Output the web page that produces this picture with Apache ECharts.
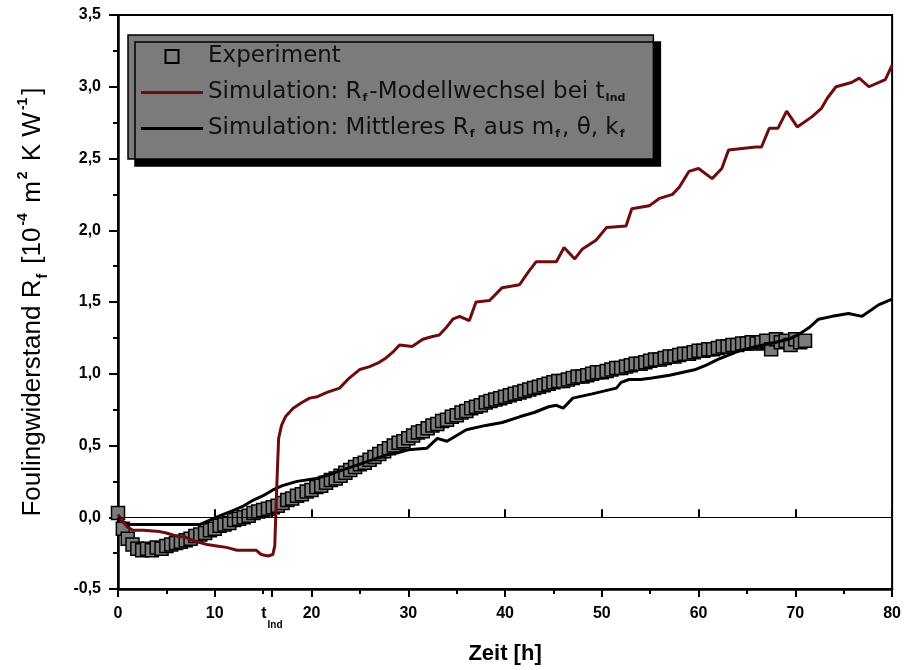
<!DOCTYPE html>
<html><head><meta charset="utf-8">
<script src="https://cdn.jsdelivr.net/npm/echarts@6/dist/echarts.min.js"></script>
<style>html,body{margin:0;padding:0;background:#fff}#c{width:904px;height:670px}</style>
</head><body><div id="c"></div>
<script>
// ---- Data ----
const expTime = [0,0.5,1,1.5,2,2.5,3,3.5,4,4.5,5,5.5,6,6.5,7,7.5,8,8.5,9,9.5,10,10.5,11,11.5,12,12.5,13,13.5,14,14.5,15,15.5,16,16.5,17,17.5,18,18.5,19,19.5,20,20.5,21,21.5,22,22.5,23,23.5,24,24.5,25,25.5,26,26.5,27,27.5,28,28.5,29,29.5,30,30.5,31,31.5,32,32.5,33,33.5,34,34.5,35,35.5,36,36.5,37,37.5,38,38.5,39,39.5,40,40.5,41,41.5,42,42.5,43,43.5,44,44.5,45,45.5,46,46.5,47,47.5,48,48.5,49,49.5,50,50.5,51,51.5,52,52.5,53,53.5,54,54.5,55,55.5,56,56.5,57,57.5,58,58.5,59,59.5,60,60.5,61,61.5,62,62.5,63,63.5,64,64.5,65,65.5,66,66.5,67,67.5,68,68.5,69,69.5,70,70.5,71];
const expValues = [0.03,-0.08,-0.15,-0.19,-0.22,-0.23,-0.22,-0.23,-0.21,-0.22,-0.20,-0.19,-0.18,-0.17,-0.16,-0.15,-0.13,-0.12,-0.11,-0.09,-0.08,-0.06,-0.05,-0.04,-0.02,-0.01,0.00,0.01,0.03,0.04,0.05,0.06,0.07,0.08,0.10,0.12,0.13,0.15,0.16,0.18,0.19,0.21,0.22,0.24,0.26,0.27,0.29,0.31,0.33,0.35,0.37,0.38,0.40,0.42,0.44,0.46,0.48,0.50,0.52,0.53,0.55,0.57,0.59,0.60,0.62,0.64,0.65,0.67,0.68,0.70,0.71,0.73,0.74,0.76,0.77,0.78,0.80,0.81,0.82,0.83,0.84,0.85,0.86,0.87,0.88,0.89,0.90,0.91,0.92,0.93,0.94,0.95,0.95,0.96,0.97,0.98,0.98,0.99,1.00,1.01,1.01,1.02,1.03,1.04,1.04,1.05,1.06,1.07,1.07,1.08,1.09,1.10,1.10,1.11,1.12,1.12,1.13,1.14,1.14,1.15,1.16,1.16,1.17,1.17,1.18,1.19,1.19,1.20,1.20,1.21,1.21,1.22,1.21,1.22,1.23,1.17,1.24,1.22,1.23,1.20,1.24,1.22,1.23];

const redTime = [0,0.5,1,1.5,2.6,4.3,5,6,7,8.1,9.2,10.2,11.2,12.3,13.5,14.3,14.8,15.5,16,16.2,16.4,16.6,16.9,17.3,18.1,19,19.8,20.6,21.6,22.9,23.9,25,26,27,27.7,28.4,29.1,30.4,31.5,32.5,33.2,33.9,34.6,35.3,36.3,37,38.4,39.7,41.5,42.3,43.2,45.3,46.1,47.2,48,49.4,50.5,52.5,53.1,54.9,55.9,57.3,58,59,60,61.4,62.4,63.1,65.9,66.5,67.3,68.2,69.1,70.2,71.7,72.7,73.3,74.2,75.8,76.6,77.6,79.3,80];
const redValues = [0.02,-0.03,-0.07,-0.09,-0.09,-0.10,-0.11,-0.13,-0.14,-0.17,-0.19,-0.20,-0.21,-0.23,-0.23,-0.23,-0.26,-0.27,-0.26,-0.20,0.20,0.55,0.64,0.70,0.76,0.80,0.83,0.84,0.87,0.90,0.97,1.03,1.05,1.08,1.11,1.15,1.20,1.19,1.24,1.26,1.27,1.32,1.38,1.40,1.37,1.50,1.51,1.60,1.62,1.70,1.78,1.78,1.88,1.80,1.87,1.93,2.02,2.03,2.15,2.17,2.22,2.25,2.30,2.41,2.43,2.36,2.43,2.56,2.58,2.58,2.71,2.71,2.83,2.72,2.79,2.85,2.92,3.00,3.03,3.06,3.00,3.05,3.15];

const blackTime = [0,0.5,1,3,6,8.5,9.5,10.5,12,13,14,15,16,17,18.5,20.5,22,23.2,25,26.7,28,29,30,31.9,33,34,35,36,38,39.7,41.5,43,44.5,45.3,46,47,49,51.5,52,52.8,54,55.2,57,59.7,60.8,62,64.2,66,68,69.3,70.5,71.4,72.4,73.8,75.5,76.9,78.6,80];
const blackValues = [0,-0.03,-0.05,-0.05,-0.05,-0.05,-0.02,0.01,0.05,0.08,0.12,0.15,0.19,0.22,0.25,0.27,0.30,0.33,0.37,0.41,0.44,0.45,0.47,0.48,0.55,0.53,0.57,0.61,0.64,0.66,0.70,0.73,0.77,0.78,0.76,0.83,0.86,0.90,0.94,0.96,0.96,0.97,0.99,1.03,1.06,1.10,1.16,1.19,1.22,1.24,1.28,1.32,1.38,1.40,1.42,1.40,1.48,1.52];

const xMajorTicks = [0,10,15.9,20,30,40,50,60,70,80];
const tIndValue = 15.9;

const nameExp = 'Experiment';
const nameRed = 'Simulation: Rf-Modellwechsel bei tInd';
const nameBlk = 'Simulation: Mittleres Rf aus mf, θ, kf';
// --------------

const zip = (a, b) => a.map((v, i) => [v, b[i]]);
const legendRich = {
  n: {fontFamily: 'DejaVu Sans', fontSize: 23, color: '#111', verticalAlign: 'middle'},
  s: {fontFamily: 'DejaVu Sans', fontSize: 11, fontWeight: 'bold', color: '#111', verticalAlign: 'bottom', padding: [0, 2, 0, 1]}
};
const legendText = {};
legendText[nameExp] = '{n|Experiment}';
legendText[nameRed] = '{n|Simulation: R}{s|f}{n|-Modellwechsel bei t}{s|Ind}';
legendText[nameBlk] = '{n|Simulation: Mittleres R}{s|f}{n| aus m}{s|f}{n|, θ, k}{s|f}';

const lblFont = {fontFamily: 'Liberation Sans', fontWeight: 'bold', fontSize: 16, color: '#000'};

const chart = echarts.init(document.getElementById('c'), null, {renderer: 'canvas'});
chart.setOption({
  animation: false,
  backgroundColor: '#fff',
  grid: {left: 118, right: 10, top: 15, bottom: 80, show: true, borderColor: '#000', borderWidth: 2, backgroundColor: 'transparent'},
  legend: {
    orient: 'vertical', left: 128, top: 35,
    itemWidth: 62, itemHeight: 13, itemGap: 13,
    padding: [10, 28, 19, 12],
    backgroundColor: '#7b7b7b', borderColor: '#000', borderWidth: 1.5,
    shadowColor: '#000', shadowOffsetX: 7, shadowOffsetY: 7, shadowBlur: 0,
    selectedMode: false,
    data: [
      {name: nameExp, icon: 'path://M0,0 M62,13 M24.5,0 L37.5,0 L37.5,13 L24.5,13 Z', itemStyle: {color: '#7b7b7b', borderColor: '#000', borderWidth: 2}},
      {name: nameRed, icon: 'path://M0,0 M62,13 M0,5 L62,5 L62,8 L0,8 Z'},
      {name: nameBlk, icon: 'path://M0,0 M62,13 M0,5 L62,5 L62,8 L0,8 Z'}
    ],
    formatter: n => legendText[n],
    textStyle: {rich: legendRich}
  },
  xAxis: [
    {
      type: 'value', min: 0, max: 80, interval: 10, position: 'bottom',
      name: 'Zeit [h]', nameLocation: 'middle', nameGap: 54,
      nameTextStyle: {fontFamily: 'Liberation Sans', fontWeight: 'bold', fontSize: 22, color: '#000'},
      axisLine: {show: true, onZero: false, lineStyle: {color: '#000', width: 2.5}},
      axisTick: {show: true, inside: false, length: 8, customValues: xMajorTicks, lineStyle: {color: '#000', width: 2}},
      minorTick: {show: true, splitNumber: 2, length: 5, lineStyle: {color: '#000', width: 2}},
      axisLabel: {show: true, margin: 17, customValues: xMajorTicks,
        formatter: v => (Math.abs(v - tIndValue) < 1e-6 ? '{t|t}{s|Ind}' : String(v)),
        rich: {
          t: Object.assign({}, lblFont, {fontSize: 16, lineHeight: 18, verticalAlign: 'top'}),
          s: Object.assign({}, lblFont, {fontSize: 10, lineHeight: 18, verticalAlign: 'bottom', padding: [0, 0, -6, 1]})
        },
        ...lblFont},
      splitLine: {show: false}
    },
    {
      type: 'value', min: 0, max: 80, interval: 10, position: 'bottom', gridIndex: 0,
      axisLine: {show: false},
      axisTick: {show: true, inside: true, length: 8, customValues: xMajorTicks, lineStyle: {color: '#000', width: 2}},
      axisLabel: {show: false}, splitLine: {show: false}
    }
  ],
  yAxis: {
    type: 'value', min: -0.5, max: 3.5, interval: 0.5,
    name: '{n|Foulingwiderstand R}{s|f}{n| [10}{p|-4}{n| m}{p|2}{n| K W}{p|-1}{n|]}',
    nameLocation: 'middle', nameRotate: 90, nameGap: 68,
    nameTextStyle: {rich: {
      n: {fontFamily: 'Liberation Sans', fontSize: 26, color: '#000', lineHeight: 34, verticalAlign: 'middle'},
      s: {fontFamily: 'Liberation Sans', fontSize: 14, fontWeight: 'bold', color: '#000', lineHeight: 34, verticalAlign: 'bottom', padding: [0, 3, 0, 1]},
      p: {fontFamily: 'Liberation Sans', fontSize: 14, fontWeight: 'bold', color: '#000', lineHeight: 34, verticalAlign: 'top', padding: [0, 3, 0, 2]}
    }},
    axisLine: {show: true, onZero: false, lineStyle: {color: '#000', width: 2.5}},
    axisTick: {show: true, inside: false, length: 9, lineStyle: {color: '#000', width: 2}},
    minorTick: {show: true, splitNumber: 2, length: 5, lineStyle: {color: '#000', width: 2}},
    axisLabel: {margin: 17, formatter: v => v.toFixed(1).replace('.', ','), ...lblFont},
    splitLine: {show: false}
  },
  series: [
    {
      name: nameExp, type: 'scatter', data: zip(expTime, expValues),
      symbol: 'rect', symbolSize: 13,
      itemStyle: {color: '#7b7b7b', borderColor: '#000', borderWidth: 1.5, opacity: 1},
      z: 2
    },
    {
      name: nameBlk, type: 'line', data: zip(blackTime, blackValues),
      showSymbol: false, symbol: 'none', color: '#000',
      lineStyle: {color: '#000', width: 3},
      markLine: {silent: true, symbol: 'none', label: {show: false},
        lineStyle: {color: '#000', width: 1.2, type: 'solid'}, data: [{yAxis: 0}]},
      z: 3
    },
    {
      name: nameRed, type: 'line', data: zip(redTime, redValues),
      showSymbol: false, symbol: 'none', color: '#6d0c0c',
      lineStyle: {color: '#6d0c0c', width: 3},
      z: 4
    }
  ]
});
</script></body></html>
